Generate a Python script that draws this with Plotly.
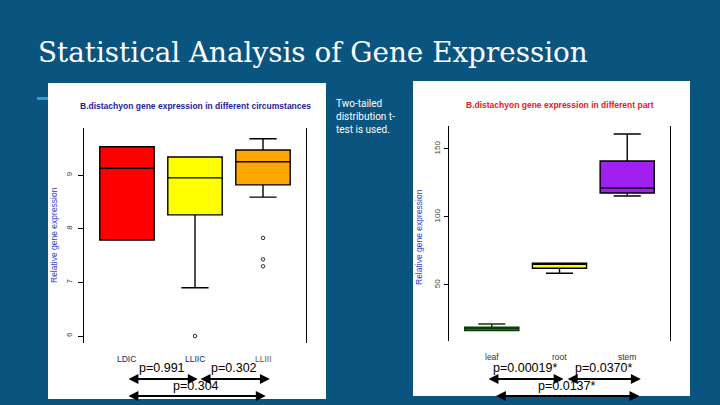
import plotly.graph_objects as go

W, H = 720, 405

# ---------------- data ----------------
slide_title = "Statistical Analysis of Gene Expression"
side_note = "Two-tailed<br>distribution t-<br>test is used."

circ_title = "B.distachyon gene expression in different circumstances"
circ_categories = ["LDIC", "LLIIC", "LLIII"]
circ_q1 = [7.79, 8.26, 8.82]
circ_median = [9.13, 8.95, 9.25]
circ_q3 = [9.53, 9.34, 9.47]
circ_lower = [7.79, 6.90, 8.59]
circ_upper = [9.53, 9.34, 9.68]
circ_outlier_cat = ["LLIIC", "LLIII", "LLIII", "LLIII"]
circ_outlier_val = [6.0, 7.83, 7.43, 7.30]
circ_yticks = [6, 7, 8, 9]
circ_pairs = [("LDIC", "LLIIC"), ("LLIIC", "LLIII"), ("LDIC", "LLIII")]
circ_pvalues = ["p=0.991", "p=0.302", "p=0.304"]

part_title = "B.distachyon gene expression in different part"
part_categories = ["leaf", "root", "stem"]
part_q1 = [16.4, 62.3, 117.6]
part_median = [17.8, 65.5, 121.3]
part_q3 = [18.9, 66.0, 141.2]
part_lower = [16.4, 58.6, 115.4]
part_upper = [21.3, 66.0, 161.0]
part_yticks = [50, 100, 150]
part_pairs = [("leaf", "root"), ("root", "stem"), ("leaf", "stem")]
part_pvalues = ["p=0.00019*", "p=0.0370*", "p=0.0137*"]

y_label = "Relative gene expression"

# ---------------- styles ----------------
BG = "#0A5480"
circ_colors = ["#FF0000", "#FFFF00", "#FFA500"]
circ_line_colors = ["black", "black", "black"]
part_colors = ["#1DB31D", "#FFFF00", "#A020F0"]
part_line_colors = ["#0B3D0B", "black", "black"]
circ_label_colors = ["#1A1A6E", "#1A1A6E", "#7A5A1A"]
part_label_colors = ["#333333", "#333333", "#333333"]


def px_x(p):
    return p / W


def px_y(p):
    return 1 - p / H


fig = go.Figure()


def add_boxes(cats, q1, med, q3, lo, hi, colors, lcolors, xa, ya):
    for i, c in enumerate(cats):
        fig.add_trace(go.Box(
            x=[c], q1=[q1[i]], median=[med[i]], q3=[q3[i]],
            lowerfence=[lo[i]], upperfence=[hi[i]],
            fillcolor=colors[i], line=dict(color=lcolors[i], width=1.4),
            width=0.8, whiskerwidth=0.5, boxpoints=False,
            showlegend=False, hoverinfo="skip", xaxis=xa, yaxis=ya))


add_boxes(circ_categories, circ_q1, circ_median, circ_q3, circ_lower, circ_upper,
          circ_colors, circ_line_colors, "x", "y")
add_boxes(part_categories, part_q1, part_median, part_q3, part_lower, part_upper,
          part_colors, part_line_colors, "x2", "y2")

fig.add_trace(go.Scatter(
    x=circ_outlier_cat, y=circ_outlier_val, mode="markers",
    marker=dict(symbol="circle-open", size=3.5, color="black", line=dict(width=0.8)),
    showlegend=False, hoverinfo="skip", xaxis="x", yaxis="y"))

axis_common = dict(showgrid=False, zeroline=False)

fig.update_layout(
    width=W, height=H,
    margin=dict(l=0, r=0, t=0, b=0),
    paper_bgcolor=BG, plot_bgcolor="white",
    boxmode="overlay",
    xaxis=dict(domain=[px_x(84), px_x(306)], type="category",
               categoryarray=circ_categories, range=[-0.632, 2.632],
               showticklabels=False, ticks="", showline=False, anchor="y", **axis_common),
    yaxis=dict(domain=[px_y(343), px_y(128)], range=[5.87, 9.88], anchor="x",
               showline=True, mirror=True, linecolor="black", linewidth=1,
               ticks="outside", ticklen=5, tickcolor="black", tickvals=circ_yticks,
               tickangle=-90, ticklabelstandoff=3,
               tickfont=dict(family="Liberation Sans", size=8, color="#444444"),
               **axis_common),
    xaxis2=dict(domain=[px_x(449), px_x(670)], type="category",
                categoryarray=part_categories, range=[-0.632, 2.632],
                showticklabels=False, ticks="", showline=False, anchor="y2", **axis_common),
    yaxis2=dict(domain=[px_y(341), px_y(126)], range=[8.8, 166.9], anchor="x2",
                showline=True, mirror=True, linecolor="black", linewidth=1,
                ticks="outside", ticklen=4, tickcolor="black", tickvals=part_yticks,
                tickangle=-90, ticklabelstandoff=1,
                tickfont=dict(family="Liberation Sans", size=8, color="#444444"),
                **axis_common),
)

# panels and accent bar
fig.add_shape(type="rect", xref="paper", yref="paper",
              x0=px_x(48), x1=px_x(326), y0=px_y(399), y1=px_y(83),
              fillcolor="white", line=dict(width=0), layer="below")
fig.add_shape(type="rect", xref="paper", yref="paper",
              x0=px_x(413), x1=px_x(690), y0=px_y(396), y1=px_y(81),
              fillcolor="white", line=dict(width=0), layer="below")
fig.add_shape(type="rect", xref="paper", yref="paper",
              x0=px_x(37), x1=px_x(48), y0=px_y(100), y1=px_y(97),
              fillcolor="#2E9BDA", line=dict(width=0), layer="below")

# slide title and side note
fig.add_annotation(text=slide_title, xref="paper", yref="paper",
                   x=px_x(36), y=px_y(52), xanchor="left", yanchor="middle",
                   showarrow=False,
                   font=dict(family="DejaVu Serif", size=27.8, color="white"))
fig.add_annotation(text=side_note, xref="paper", yref="paper",
                   x=px_x(334), y=px_y(96), xanchor="left", yanchor="top",
                   align="left", showarrow=False,
                   font=dict(family="Roboto", size=10, color="white"))

# chart titles
fig.add_annotation(text="<b>" + circ_title + "</b>", xref="paper", yref="paper",
                   x=px_x(195), y=px_y(106), xanchor="center", yanchor="middle",
                   showarrow=False,
                   font=dict(family="Liberation Sans", size=8.5, color="#1C1CA0"))
fig.add_annotation(text="<b>" + part_title + "</b>", xref="paper", yref="paper",
                   x=px_x(560), y=px_y(105), xanchor="center", yanchor="middle",
                   showarrow=False,
                   font=dict(family="Liberation Sans", size=8.5, color="#E0201E"))

# y labels
fig.add_annotation(text=y_label, xref="paper", yref="paper", x=px_x(54), y=px_y(235),
                   xanchor="center", yanchor="middle", textangle=-90, showarrow=False,
                   font=dict(family="Liberation Sans", size=8.5, color="#3040C0"))
fig.add_annotation(text=y_label, xref="paper", yref="paper", x=px_x(419), y=px_y(237),
                   xanchor="center", yanchor="middle", textangle=-90, showarrow=False,
                   font=dict(family="Liberation Sans", size=8.5, color="#3040C0"))

# category labels
for i, c in enumerate(circ_categories):
    fig.add_annotation(text=c, xref="x", yref="paper", x=i, y=px_y(359),
                       xanchor="center", yanchor="middle", showarrow=False,
                       font=dict(family="Liberation Sans", size=8.5, color=circ_label_colors[i]))
for i, c in enumerate(part_categories):
    fig.add_annotation(text=c, xref="x2", yref="paper", x=i, y=px_y(357),
                       xanchor="center", yanchor="middle", showarrow=False,
                       font=dict(family="Liberation Sans", size=8.5, color=part_label_colors[i]))


def add_pvals(cats, pairs, labels, xr, starts, ends, rows):
    for k, (a, b) in enumerate(pairs):
        x0 = cats.index(a) + starts[k]
        x1 = cats.index(b) + ends[k]
        arrow_y, text_y = rows[k]
        fig.add_annotation(x=x1, y=px_y(arrow_y), xref=xr, yref="paper",
                           ax=x0, ay=0, axref=xr, ayref="pixel",
                           text="", showarrow=True, arrowside="end+start",
                           arrowhead=2, startarrowhead=2, arrowsize=0.9, startarrowsize=0.9,
                           arrowwidth=2.2, arrowcolor="black", standoff=0, startstandoff=0)
        fig.add_annotation(text=labels[k], xref=xr, yref="paper",
                           x=(x0 + x1) / 2, y=px_y(text_y),
                           xanchor="center", yanchor="middle", showarrow=False,
                           font=dict(family="Liberation Sans", size=12.5, color="black"))


rows = [(379, 368), (379, 368), (396, 386)]
add_pvals(circ_categories, circ_pairs, circ_pvalues, "x",
          [0.0, 0.06, 0.0], [0.04, 0.1, 0.04], rows)
add_pvals(part_categories, part_pairs, part_pvalues, "x2",
          [-0.07, 0.1, 0.04], [0.06, 0.2, 0.18], rows)

fig.write_html("out.html")
